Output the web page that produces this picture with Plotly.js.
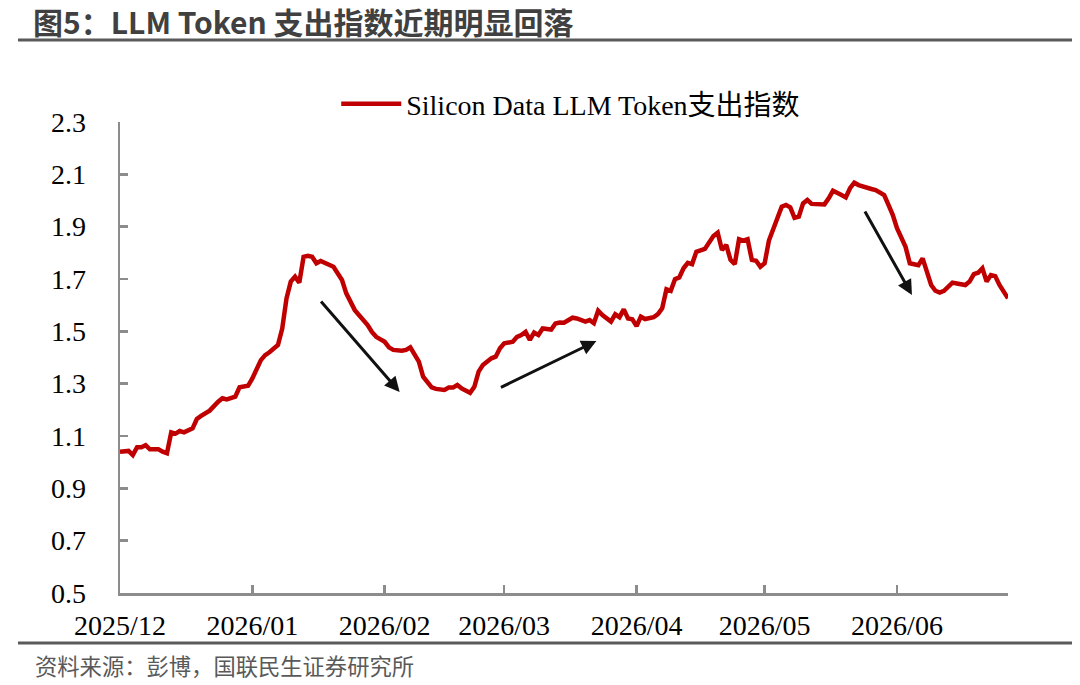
<!DOCTYPE html>
<html>
<head>
<meta charset="utf-8">
<script src="https://cdn.plot.ly/plotly-3.0.1.min.js"></script>
<style>html,body{margin:0;padding:0;background:#fff;}#chart{width:1080px;height:685px;}</style>
</head>
<body>
<div id="chart"></div>
<script>
const dates = [
'2025-12-01','2025-12-03','2025-12-04','2025-12-05','2025-12-06','2025-12-07','2025-12-08','2025-12-10','2025-12-11','2025-12-12',
'2025-12-13','2025-12-14','2025-12-15','2025-12-16','2025-12-18','2025-12-19','2025-12-20','2025-12-22','2025-12-24','2025-12-25',
'2025-12-26','2025-12-28','2025-12-29','2025-12-31','2026-01-01','2026-01-03','2026-01-04','2026-01-05','2026-01-07','2026-01-08',
'2026-01-09','2026-01-10','2026-01-11','2026-01-12','2026-01-13','2026-01-14','2026-01-15','2026-01-16','2026-01-17','2026-01-18',
'2026-01-20','2026-01-22','2026-01-23','2026-01-25','2026-01-26','2026-01-28','2026-01-29','2026-01-30','2026-02-01','2026-02-02',
'2026-02-03','2026-02-05','2026-02-06','2026-02-07','2026-02-09','2026-02-10','2026-02-12','2026-02-13','2026-02-15','2026-02-16',
'2026-02-17','2026-02-18','2026-02-19','2026-02-21','2026-02-22','2026-02-23','2026-02-24','2026-02-26','2026-02-27','2026-02-28',
'2026-03-01','2026-03-03','2026-03-04','2026-03-05','2026-03-06','2026-03-07','2026-03-08','2026-03-09','2026-03-10','2026-03-12',
'2026-03-13','2026-03-14','2026-03-15','2026-03-17','2026-03-18','2026-03-20','2026-03-21','2026-03-22','2026-03-23','2026-03-24',
'2026-03-26','2026-03-27','2026-03-28','2026-03-29','2026-03-30','2026-03-31','2026-04-01','2026-04-02','2026-04-03','2026-04-05',
'2026-04-06','2026-04-07','2026-04-08','2026-04-09','2026-04-10','2026-04-11','2026-04-12','2026-04-13','2026-04-14','2026-04-15',
'2026-04-17','2026-04-18','2026-04-19','2026-04-20','2026-04-21','2026-04-22','2026-04-23','2026-04-24','2026-04-25','2026-04-26',
'2026-04-27','2026-04-28','2026-04-29','2026-04-30','2026-05-01','2026-05-02','2026-05-03','2026-05-04','2026-05-05','2026-05-06',
'2026-05-07','2026-05-08','2026-05-09','2026-05-10','2026-05-11','2026-05-12','2026-05-14','2026-05-15','2026-05-16','2026-05-17',
'2026-05-19','2026-05-20','2026-05-21','2026-05-22','2026-05-23','2026-05-25','2026-05-26','2026-05-27','2026-05-29','2026-05-30',
'2026-05-31','2026-06-01','2026-06-02','2026-06-03','2026-06-04','2026-06-06','2026-06-07','2026-06-08','2026-06-09','2026-06-10',
'2026-06-11','2026-06-12','2026-06-13','2026-06-14','2026-06-15','2026-06-17','2026-06-18','2026-06-19','2026-06-20','2026-06-21',
'2026-06-22','2026-06-23','2026-06-24','2026-06-25','2026-06-27'
];
const tokenIndex = [
1.040,1.043,1.027,1.057,1.057,1.065,1.049,1.049,1.040,1.034,
1.114,1.109,1.119,1.114,1.129,1.165,1.177,1.197,1.231,1.244,
1.240,1.250,1.286,1.292,1.320,1.390,1.409,1.420,1.448,1.511,
1.626,1.690,1.709,1.686,1.785,1.789,1.785,1.760,1.769,1.762,
1.747,1.696,1.645,1.581,1.562,1.524,1.498,1.479,1.460,1.439,
1.429,1.426,1.429,1.439,1.384,1.327,1.286,1.280,1.276,1.285,
1.285,1.295,1.282,1.265,1.288,1.346,1.371,1.397,1.403,1.435,
1.454,1.460,1.479,1.486,1.498,1.467,1.495,1.486,1.511,1.507,
1.530,1.534,1.533,1.552,1.549,1.537,1.543,1.531,1.579,1.562,
1.537,1.565,1.554,1.584,1.549,1.546,1.520,1.556,1.547,1.554,
1.566,1.588,1.661,1.655,1.699,1.706,1.741,1.762,1.757,1.804,
1.815,1.839,1.864,1.877,1.811,1.830,1.773,1.757,1.852,1.847,
1.852,1.773,1.770,1.747,1.760,1.847,1.890,1.940,1.976,1.983,
1.974,1.934,1.938,1.989,2.002,1.987,1.983,1.985,2.008,2.037,
2.021,2.012,2.047,2.068,2.059,2.047,2.044,2.040,2.021,1.983,
1.945,1.894,1.856,1.823,1.760,1.753,1.779,1.722,1.677,1.655,
1.648,1.655,1.673,1.686,1.683,1.677,1.690,1.719,1.724,1.741,
1.690,1.715,1.711,1.677,1.626
];
const seriesName = 'Silicon Data LLM Token支出指数';
const chartTitle = '图5：LLM Token 支出指数近期明显回落';
const sourceNote = '资料来源：彭博，国联民生证券研究所';
const yTicks = [0.5,0.7,0.9,1.1,1.3,1.5,1.7,1.9,2.1,2.3];
const yTickLabels = ['0.5','0.7','0.9','1.1','1.3','1.5','1.7','1.9','2.1','2.3'];
const xRange = ['2025-12-01','2026-06-27'];
// arrows: tail -> head (data coordinates)
const arrowTailX = ['2026-01-16 19:00','2026-02-27 21:00','2026-05-24 07:00'];
const arrowTailY = [1.620,1.283,1.964];
const arrowHeadX = ['2026-02-04 12:00','2026-03-22 14:00','2026-06-04 12:00'];
const arrowHeadY = [1.268,1.463,1.639];

const serif = '"Liberation Serif","Times New Roman","Noto Sans CJK SC",serif';
const sans = '"Noto Sans CJK SC","Noto Sans",sans-serif';

const trace = {
  type: 'scatter', mode: 'lines', x: dates, y: tokenIndex, name: seriesName,
  line: {color: '#C00000', width: 4.5}
};

const annotations = arrowTailX.map((tx, i) => ({
  x: arrowHeadX[i], y: arrowHeadY[i], xref: 'x', yref: 'y',
  ax: tx, ay: arrowTailY[i], axref: 'x', ayref: 'y',
  text: '', showarrow: true, arrowhead: 2, arrowsize: 1, arrowwidth: 3,
  arrowcolor: '#111111', standoff: 0, startstandoff: 0
}));
annotations.push({
  text: sourceNote, xref: 'paper', yref: 'paper', x: -0.098, y: -0.153,
  xanchor: 'left', yanchor: 'middle', showarrow: false,
  font: {family: sans, size: 22.3, color: '#595959'}
});

const layout = {
  width: 1080, height: 685,
  margin: {l: 120, r: 72, t: 122, b: 92},
  paper_bgcolor: '#ffffff', plot_bgcolor: '#ffffff',
  title: {
    text: '<b>' + chartTitle + '</b>', xref: 'container', yref: 'container',
    x: 0.0306, xanchor: 'left', y: 0.966, yanchor: 'middle',
    font: {family: sans, size: 30, color: '#404040'}
  },
  showlegend: true,
  legend: {
    x: 0.2435, y: 1.038, xanchor: 'left', yanchor: 'middle',
    orientation: 'h', bgcolor: 'rgba(0,0,0,0)', itemwidth: 60,
    font: {family: serif, size: 28, color: '#000000'}
  },
  xaxis: {
    type: 'date', range: xRange, dtick: 'M1', tick0: '2025-12-01', tickformat: '%Y/%m',
    showgrid: false, zeroline: false, showline: true, linecolor: '#8c8c8c', linewidth: 2.5,
    ticks: 'inside', ticklen: 8, tickwidth: 2.5, tickcolor: '#8c8c8c',
    tickfont: {family: serif, size: 28, color: '#000000'}, ticklabelstandoff: 6
  },
  yaxis: {
    range: [0.5, 2.3], tickvals: yTicks, ticktext: yTickLabels,
    showgrid: false, zeroline: false, showline: true, linecolor: '#8c8c8c', linewidth: 2.5,
    ticks: 'inside', ticklen: 8, tickwidth: 2.5, tickcolor: '#8c8c8c',
    tickfont: {family: serif, size: 28, color: '#000000'}, ticklabelstandoff: 26
  },
  shapes: [
    {type: 'line', xref: 'paper', yref: 'paper', x0: -0.1149, x1: 1.0721, y0: 1.174, y1: 1.174,
     line: {color: '#5a5a5a', width: 3}},
    {type: 'line', xref: 'paper', yref: 'paper', x0: -0.1149, x1: 1.0721, y0: -0.106, y1: -0.106,
     line: {color: '#5a5a5a', width: 3}}
  ],
  annotations: annotations
};

Plotly.newPlot('chart', [trace], layout, {displayModeBar: false, staticPlot: true});
</script>
</body>
</html>
